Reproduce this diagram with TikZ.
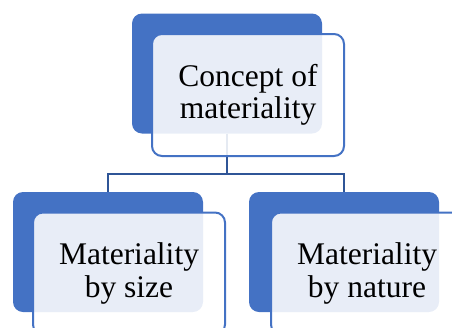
\documentclass[tikz,border=0pt]{standalone}
\usepackage{fontspec}
\setmainfont{Liberation Serif}
\usepackage{xcolor}
\usepackage{tikz}
\usetikzlibrary{calc,positioning}

\definecolor{accent}{RGB}{68,114,196}
\definecolor{linkblue}{RGB}{47,85,151}

\begin{document}
\begin{tikzpicture}[
  x=1pt,y=-1pt,
  backbox/.style={rectangle,rounded corners=10pt,fill=accent,minimum width=190pt,minimum height=120pt,inner sep=0pt},
  frontbox/.style={rectangle,rounded corners=10pt,draw=accent,line width=2pt,fill=white,fill opacity=0.88,text opacity=1,
    minimum width=192pt,minimum height=122pt,inner sep=0pt,align=center,font=\fontsize{31.5}{32.5}\selectfont},
  link/.style={draw=linkblue,line width=2pt}
]
\useasboundingbox (0,0) rectangle (452,327);

\def\ytop{73.5}
\def\ybot{252}
\def\dx{21}
\def\dy{21.5}

% back shapes
\node[backbox] (conceptback) at (227,\ytop) {};
\node[backbox] (sizeback) at (108,\ybot) {};
\node[backbox] (natureback) at (344,\ybot) {};

% tree lines
\draw[link] (conceptback.south) -- ++(0,40) -| (sizeback.north);
\draw[link] (conceptback.south) -- ++(0,40) -| (natureback.north);

% front shapes with text
\node[frontbox] (concept) at ($(conceptback)+(\dx,\dy)$) {Concept of\\materiality};
\node[frontbox] (size) at ($(sizeback)+(\dx,\dy)$) {Materiality\\by size};
\node[frontbox] (nature) at ($(natureback)+(\dx+2,\dy)$) {Materiality\\by nature};

\end{tikzpicture}
\end{document}
